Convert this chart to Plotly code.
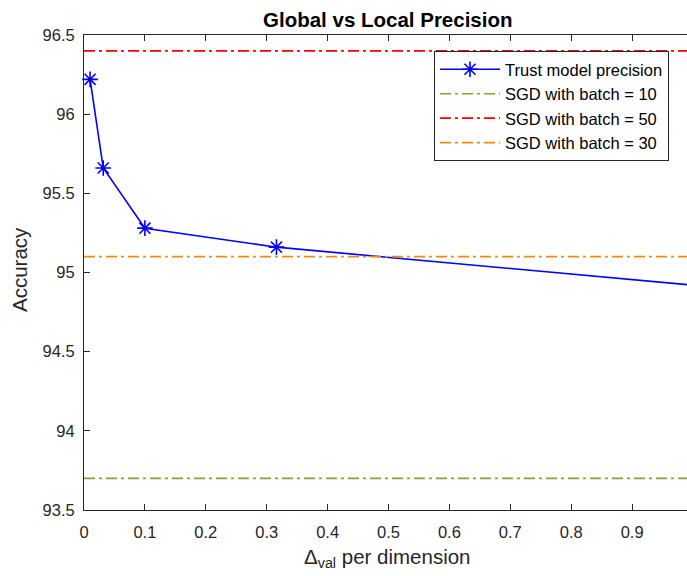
import plotly.graph_objects as go

# Data
delta = [0.01, 0.0316, 0.1, 0.316, 1.0]
trust_acc = [96.22, 95.66, 95.28, 95.16, 94.92]
sgd_names = ["SGD with batch = 10", "SGD with batch = 50", "SGD with batch = 30"]
sgd_acc = [93.70, 96.40, 95.10]
sgd_colors = ["#77AC30", "#FF0000", "#ED8B16"]
x_span = [0, 1]
x_ticks = [0, 0.1, 0.2, 0.3, 0.4, 0.5, 0.6, 0.7, 0.8, 0.9]
x_ticklabels = ["0", "0.1", "0.2", "0.3", "0.4", "0.5", "0.6", "0.7", "0.8", "0.9"]
y_ticks = [93.5, 94, 94.5, 95, 95.5, 96, 96.5]
y_ticklabels = ["93.5", "94", "94.5", "95", "95.5", "96", "96.5"]

FONT = "Liberation Sans, Arial, Helvetica, sans-serif"
AX = "#262626"

fig = go.Figure()
fig.add_trace(go.Scatter(
    x=delta, y=trust_acc, mode="lines+markers", name="Trust model precision",
    line=dict(color="#0000FF", width=1.6),
    marker=dict(symbol="asterisk-open", size=13, line=dict(color="#0000FF", width=1.6)),
    cliponaxis=False,
))
for name, val, col in zip(sgd_names, sgd_acc, sgd_colors):
    fig.add_trace(go.Scatter(
        x=x_span, y=[val, val], mode="lines", name=name,
        line=dict(color=col, width=1.6, dash="11px,4px,3px,4px"),
    ))

L, T, B = 84, 35, 66
W, H = 687, 576
plot_w = W - L
# axis spans 0..1 over 609 px; page is cropped at the right
xmax = plot_w / 609.0

fig.update_layout(
    width=W, height=H,
    margin=dict(l=L, r=0, t=T, b=B),
    paper_bgcolor="white", plot_bgcolor="white",
    font=dict(family=FONT, size=16.5, color=AX),
    showlegend=True,
    legend=dict(
        x=(434 - L) / plot_w, y=(H - B - 51) / (H - T - B), xanchor="left", yanchor="top",
        bgcolor="white", bordercolor=AX, borderwidth=1,
        font=dict(family=FONT, size=16.5, color="#000000"),
        tracegroupgap=0, itemwidth=60,
    ),
    xaxis=dict(
        range=[0, xmax], tickvals=x_ticks, ticktext=x_ticklabels,
        showline=True, linecolor=AX, linewidth=1, mirror="ticks",
        ticks="inside", ticklen=6, tickcolor=AX, showgrid=False, zeroline=False,
        tickfont=dict(family=FONT, size=16.5, color=AX), ticklabelstandoff=7,
    ),
    yaxis=dict(
        range=[93.5, 96.5], tickvals=y_ticks, ticktext=y_ticklabels,
        showline=True, linecolor=AX, linewidth=1, mirror=False,
        ticks="inside", ticklen=6, tickcolor=AX, showgrid=False, zeroline=False,
        tickfont=dict(family=FONT, size=16.5, color=AX), ticklabelstandoff=5,
    ),
    annotations=[
        dict(text="<b>Global vs Local Precision</b>", xref="paper", yref="paper",
             x=(388 - L) / plot_w, y=(H - B - 19) / (H - T - B), xanchor="center", yanchor="middle",
             showarrow=False, font=dict(family=FONT, size=20.5, color="#000000")),
        dict(text="Δ<sub>val</sub> per dimension", xref="paper", yref="paper",
             x=(387 - L) / plot_w, y=(H - B - 558) / (H - T - B), xanchor="center", yanchor="middle",
             showarrow=False, font=dict(family=FONT, size=20.5, color=AX)),
        dict(text="Accuracy", xref="paper", yref="paper", textangle=-90,
             x=(19 - L) / plot_w, y=(H - B - 270) / (H - T - B), xanchor="center", yanchor="middle",
             showarrow=False, font=dict(family=FONT, size=20.5, color=AX)),
    ],
)

fig.write_html("out.html")
